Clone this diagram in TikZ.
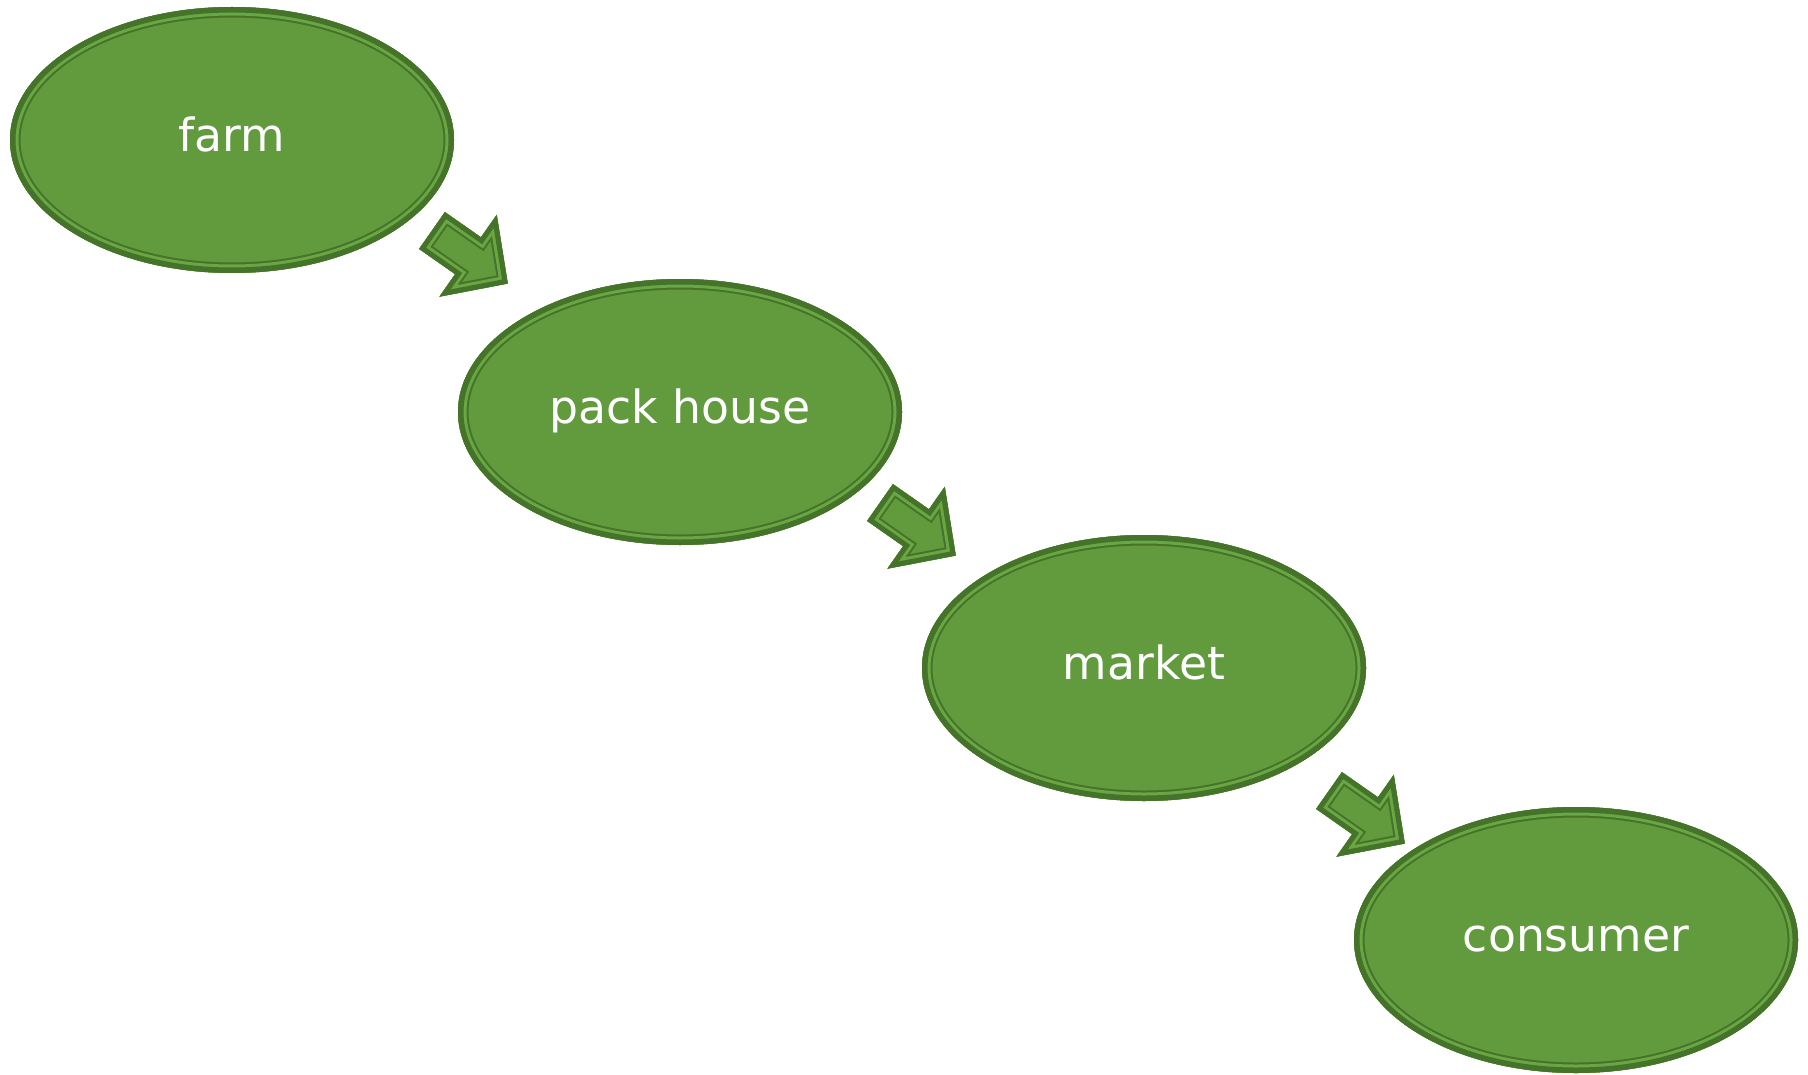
\documentclass[tikz,border=0pt]{standalone}
\usepackage{fontspec}
\setmainfont{DejaVu Sans}
\usetikzlibrary{shapes.geometric}
\definecolor{leafgreen}{RGB}{98,154,62}
\definecolor{leafdark}{RGB}{69,115,42}
\definecolor{leafgap}{RGB}{106,166,68}
\tikzstyle{rim} = [line join=miter]
\tikzstyle{stage} = [ellipse, fill=leafgreen, minimum width=4.44cm, minimum height=2.66cm,
  text=white, font=\fontsize{13}{16}\selectfont, text height=10pt, text depth=3.4pt,
  path picture={
    \draw[leafdark, line width=2.1mm] (path picture bounding box.center) ellipse [x radius=2.22cm, y radius=1.33cm];
    \draw[leafgap, line width=1.7mm] (path picture bounding box.center) ellipse [x radius=2.22cm, y radius=1.33cm];
    \draw[leafdark, line width=1.1mm] (path picture bounding box.center) ellipse [x radius=2.22cm, y radius=1.33cm];
  }]
% block arrow, tail centre at #1, pointing down-right
\def\arrowpath{(0,0.225) -- (0.44,0.225) -- (0.44,0.5) -- (0.925,0) -- (0.44,-0.5) -- (0.44,-0.225) -- (0,-0.225) -- cycle}
\newcommand{\blockarrow}[1]{
  \begin{scope}[shift={(#1)}, rotate=-35]
    \fill[leafgreen] \arrowpath;
    \begin{scope}
      \clip \arrowpath;
      \draw[rim, leafdark, line width=2mm] \arrowpath;
      \draw[rim, leafgap, line width=1.6mm] \arrowpath;
      \draw[rim, leafdark, line width=1mm] \arrowpath;
    \end{scope}
  \end{scope}
}

\begin{document}
\begin{tikzpicture}
  \useasboundingbox (0,0) rectangle (18.08,-10.74);
  \node (a) at (2.32,-1.40) [stage] {farm};
  \node (b) at (6.80,-4.12) [stage] {pack house};
  \node (c) at (11.44,-6.68) [stage] {market};
  \node (d) at (15.76,-9.40) [stage] {consumer};

  \coordinate (p) at (4.32,-2.305);
  \coordinate (q) at (8.80,-5.025);
  \coordinate (r) at (13.29,-7.905);
  \blockarrow{p}
  \blockarrow{q}
  \blockarrow{r}
\end{tikzpicture}
\end{document}
